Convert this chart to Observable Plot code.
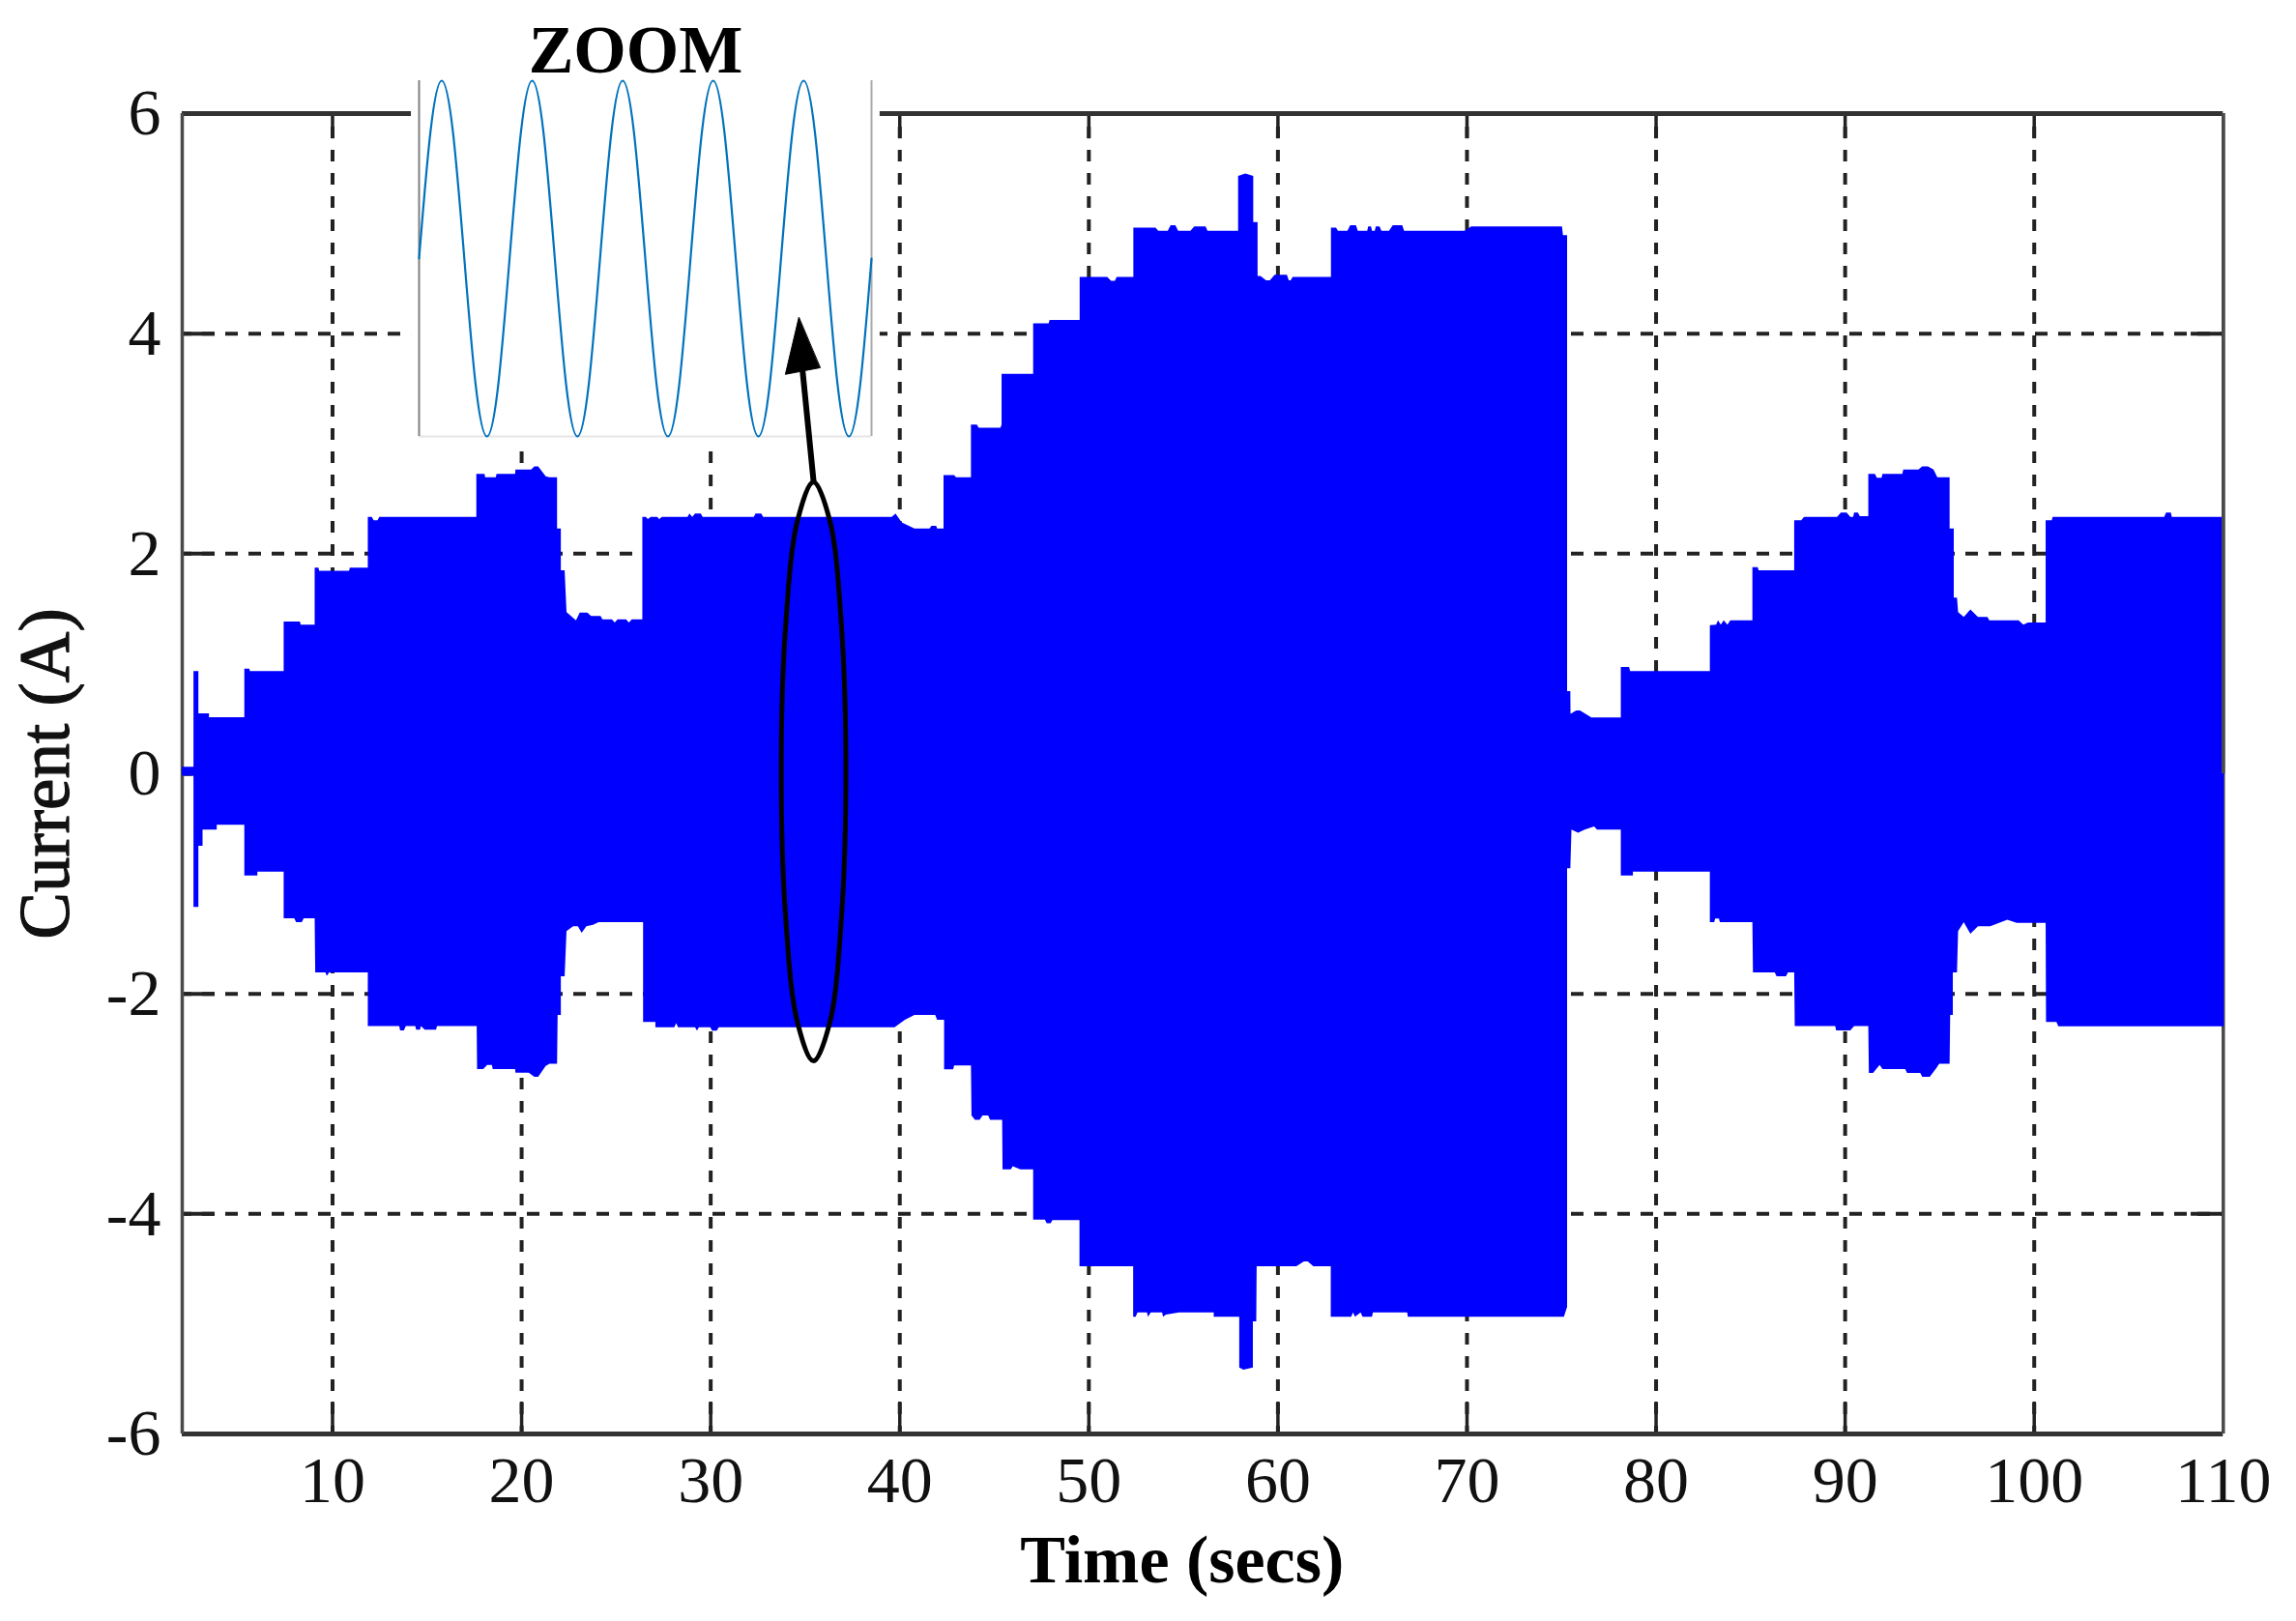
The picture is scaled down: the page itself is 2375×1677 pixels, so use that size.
<!DOCTYPE html>
<html>
<head>
<meta charset="utf-8">
<style>
html,body{margin:0;padding:0;background:#fff;}
svg{display:block;}
</style>
<script src="https://cdn.jsdelivr.net/npm/d3@7"></script>
<script src="https://cdn.jsdelivr.net/npm/@observablehq/plot@0.6"></script>
</head>
<body>
<div id="chart"></div>
<script>
const xTicks = [10,20,30,40,50,60,70,80,90,100,110];
const gridX = [10,20,30,40,50,60,70,80,90,100];
const yTicks = [-6,-4,-2,0,2,4,6];
const gridY = [-4,-2,0,2,4];

// Upper envelope of the current trace [time, amps]
const upperEnvelope = [
[2.05,.06],[2.67,.06],[2.67,.93],[2.93,.93],[2.93,.545],[3.49,.545],[3.49,.51],[5.36,.51],
[5.36,.95],[5.62,.95],[5.66,.93],[7.44,.93],
[7.44,1.38],[8.30,1.38],[8.34,1.35],[9.08,1.35],
[9.08,1.87],[9.28,1.87],[9.32,1.84],[10.90,1.84],[10.94,1.87],[11.89,1.87],
[11.89,2.33],[12.1,2.33],[12.2,2.30],[12.4,2.30],[12.5,2.33],[17.63,2.33],
[17.63,2.72],[18.06,2.72],[18.1,2.69],[18.66,2.69],[18.7,2.72],[19.68,2.72],[19.7,2.76],[20.53,2.76],[20.7,2.79],[20.9,2.79],[21.3,2.70],[21.5,2.69],[21.9,2.69],
[21.9,2.225],[22.1,2.225],[22.1,1.845],[22.3,1.845],[22.4,1.465],[22.9,1.39],[23.1,1.46],[23.5,1.46],[23.7,1.43],[24.2,1.43],[24.3,1.40],[24.8,1.40],[24.95,1.37],[25.1,1.40],[25.55,1.40],[25.7,1.37],[25.85,1.40],[26.41,1.40],
[26.41,2.33],[26.6,2.33],[26.7,2.31],[26.85,2.33],[27.2,2.33],[27.3,2.31],[27.45,2.33],[28.8,2.33],[28.9,2.36],[29.05,2.33],[29.2,2.36],[29.5,2.36],[29.6,2.33],[32.3,2.33],[32.4,2.36],[32.7,2.36],[32.8,2.33],[39.6,2.33],[39.8,2.36],[40.13,2.28],[40.8,2.225],[41.6,2.225],[41.7,2.25],[41.95,2.25],[42.0,2.225],[42.34,2.225],
[42.34,2.71],[42.9,2.71],[43.0,2.69],[43.79,2.69],
[43.79,3.17],[44.1,3.17],[44.2,3.14],[45.35,3.14],[45.41,3.17],
[45.41,3.63],[47.08,3.63],
[47.08,4.09],[47.9,4.09],[47.95,4.12],[49.54,4.12],
[49.54,4.51],[51.0,4.51],[51.2,4.475],[51.4,4.475],[51.5,4.51],[52.38,4.51],
[52.38,4.96],[53.55,4.96],[53.7,4.93],[54.2,4.93],[54.35,4.98],[54.6,4.98],[54.75,4.93],[55.4,4.93],[55.6,4.97],[56.2,4.97],[56.3,4.93],[57.92,4.93],
[57.92,5.43],[58.3,5.45],[58.72,5.43],[58.72,5.01],[58.95,5.01],[58.95,4.52],[59.1,4.52],[59.4,4.48],[59.6,4.48],[59.85,4.53],[60.5,4.53],[60.6,4.48],[60.7,4.48],[60.8,4.51],[62.83,4.51],
[62.83,4.96],[63.1,4.96],[63.2,4.93],[63.7,4.93],[63.85,4.98],[64.15,4.98],[64.25,4.93],[64.75,4.93],[64.8,4.97],[64.95,4.97],[65.0,4.93],[65.15,4.93],[65.2,4.97],[65.4,4.97],[65.5,4.93],[65.9,4.93],[66.1,4.98],[66.6,4.98],[66.7,4.93],[69.9,4.93],[70.25,4.97],[75.05,4.97],[75.1,4.89],[75.32,4.89],
[75.32,.747],[75.49,.747],[75.5,.54],[75.8,.57],[76.0,.57],[76.4,.53],[76.6,.507],[78.16,.507],
[78.16,.966],[78.6,.966],[78.65,.93],[82.87,.93],
[82.87,1.347],[83.2,1.35],[83.3,1.39],[83.45,1.35],[83.6,1.39],[83.8,1.35],[83.95,1.39],[85.12,1.39],
[85.12,1.874],[85.4,1.874],[85.45,1.845],[87.33,1.845],
[87.33,2.30],[87.7,2.30],[87.85,2.33],[89.6,2.33],[89.8,2.37],[90.1,2.37],[90.3,2.33],[90.45,2.33],[90.5,2.37],[90.7,2.37],[90.8,2.337],[91.25,2.337],
[91.25,2.72],[91.6,2.72],[91.7,2.685],[91.95,2.685],[92.0,2.72],[93.05,2.72],[93.1,2.76],[93.9,2.76],[94.1,2.79],[94.4,2.79],[94.7,2.76],[94.9,2.69],[95.55,2.69],
[95.55,2.225],[95.77,2.225],[95.77,1.596],[95.94,1.596],[96.0,1.464],[96.3,1.42],[96.65,1.49],[97.05,1.42],[97.55,1.42],[97.65,1.39],[99.2,1.39],[99.45,1.35],[99.7,1.37],[100.63,1.37],
[100.63,2.30],[100.95,2.30],[101.0,2.33],[106.9,2.33],[107.0,2.37],[107.25,2.37],[107.3,2.33],[110.05,2.33]
];

// Lower envelope of the current trace [time, amps]
const lowerEnvelope = [
[2.05,-.02],[2.67,-.02],[2.67,-1.215],[2.93,-1.215],[2.93,-.659],[3.15,-.659],[3.15,-.512],[3.9,-.512],[3.9,-.468],[5.36,-.468],
[5.36,-.928],[6.05,-.928],[6.05,-.893],[7.44,-.893],
[7.44,-1.317],[8.0,-1.317],[8.1,-1.353],[8.4,-1.353],[8.5,-1.317],[9.08,-1.317],
[9.11,-1.81],[9.65,-1.81],[9.72,-1.84],[9.85,-1.81],[11.89,-1.81],
[11.89,-2.298],[13.55,-2.298],[13.6,-2.336],[13.8,-2.336],[13.9,-2.298],[14.4,-2.298],[14.45,-2.33],[14.65,-2.33],[14.7,-2.298],[14.9,-2.33],[15.5,-2.33],[15.55,-2.298],[17.65,-2.298],
[17.67,-2.688],[18.0,-2.688],[18.2,-2.65],[18.45,-2.65],[18.5,-2.688],[19.68,-2.688],[19.7,-2.72],[20.4,-2.72],[20.7,-2.758],[20.9,-2.758],[21.3,-2.66],[21.5,-2.64],[21.9,-2.64],
[21.93,-2.196],[22.1,-2.196],[22.1,-1.845],[22.3,-1.845],[22.4,-1.435],[22.75,-1.39],[23.0,-1.39],[23.2,-1.45],[23.45,-1.39],[23.8,-1.376],[24.1,-1.353],[26.45,-1.353],
[26.45,-2.26],[27.1,-2.26],[27.1,-2.308],[28.1,-2.308],[28.2,-2.27],[28.3,-2.308],[29.2,-2.308],[29.3,-2.34],[29.4,-2.308],[30.0,-2.308],[30.1,-2.34],[30.35,-2.34],[30.45,-2.308],[39.75,-2.308],[40.3,-2.24],[40.8,-2.197],[41.9,-2.197],[42.0,-2.24],[42.37,-2.24],
[42.37,-2.69],[42.85,-2.69],[42.9,-2.656],[43.79,-2.656],
[43.82,-3.11],[44.0,-3.15],[44.25,-3.15],[44.4,-3.11],[44.7,-3.11],[44.8,-3.15],[45.44,-3.15],
[45.46,-3.60],[45.9,-3.60],[46.0,-3.57],[46.4,-3.60],[47.08,-3.60],
[47.08,-4.056],[47.7,-4.056],[47.8,-4.09],[48.0,-4.09],[48.1,-4.06],[49.53,-4.06],
[49.53,-4.48],[52.37,-4.48],
[52.37,-4.94],[52.5,-4.94],[52.6,-4.9],[53.1,-4.9],[53.15,-4.94],[53.3,-4.9],[53.9,-4.9],[53.95,-4.94],[54.1,-4.92],[54.8,-4.9],[56.63,-4.9],[56.63,-4.94],[57.98,-4.94],
[57.98,-5.40],[58.2,-5.42],[58.7,-5.40],[58.7,-4.98],[58.88,-4.98],[58.9,-4.48],[61.0,-4.48],[61.4,-4.436],[61.6,-4.436],[61.9,-4.48],[62.82,-4.48],
[62.82,-4.94],[63.9,-4.94],[64.0,-4.90],[64.1,-4.94],[64.4,-4.90],[64.5,-4.94],[65.0,-4.94],[65.05,-4.90],[66.86,-4.90],[66.9,-4.94],[75.15,-4.94],[75.32,-4.85],
[75.32,-.864],[75.49,-.864],[75.55,-.512],[75.9,-.54],[76.25,-.512],[76.75,-.483],[76.9,-.512],[78.16,-.512],
[78.16,-.928],[78.8,-.928],[78.8,-.893],[82.87,-.893],
[82.87,-1.353],[83.1,-1.353],[83.15,-1.32],[83.35,-1.32],[83.4,-1.353],[85.12,-1.353],
[85.15,-1.81],[86.3,-1.81],[86.4,-1.845],[86.9,-1.845],[87.0,-1.81],[87.33,-1.81],
[87.36,-2.298],[89.5,-2.298],[89.55,-2.336],[90.3,-2.336],[90.5,-2.298],[91.25,-2.298],
[91.28,-2.723],[91.5,-2.723],[91.85,-2.65],[92.0,-2.688],[93.2,-2.688],[93.3,-2.723],[94.0,-2.723],[94.1,-2.758],[94.5,-2.758],[94.85,-2.68],[95.0,-2.64],[95.55,-2.64],
[95.58,-2.196],[95.72,-2.196],[95.72,-1.81],[95.94,-1.81],[96.0,-1.435],[96.3,-1.353],[96.65,-1.458],[97.05,-1.39],[97.7,-1.39],[98.6,-1.33],[99.1,-1.36],[100.63,-1.36],
[100.65,-2.26],[101.2,-2.26],[101.3,-2.30],[110.05,-2.30]
];

// Callout annotation, in chart units
const ellipseTime = [37.15,36.92,36.30,35.44,34.59,33.96,33.73,33.96,34.59,35.44,36.30,36.92];
const ellipseAmps = [.02,1.335,2.30,2.65,2.30,1.335,.02,-1.295,-2.26,-2.61,-2.26,-1.295];
const arrowShaft = [[35.44,2.66],[34.87,3.646]];
const arrowHead = [[34.66,4.147],[33.95,3.63],[35.78,3.69]];
const insetCover = {t1:14.17, t2:38.96, a1:2.96, a2:6.34};

// Inset: five cycles of the current waveform
const insetTime = [0,.0025,.005,.0075,.01,.0125,.015,.0175,.02,.0225,.025,.0275,.03,.0325,.035,.0375,.04,.0425,.045,.0475,.05,.0525,.055,.0575,.06,.0625,.065,.0675,.07,.0725,.075,.0775,.08,.0825,.085,.0875,.09,.0925,.095,.0975,.1];
const insetAmps = [0,1.63,2.3,1.63,0,-1.63,-2.3,-1.63,0,1.63,2.3,1.63,0,-1.63,-2.3,-1.63,0,1.63,2.3,1.63,0,-1.63,-2.3,-1.63,0,1.63,2.3,1.63,0,-1.63,-2.3,-1.63,0,1.63,2.3,1.63,0,-1.63,-2.3,-1.63,0];

const toRow = ([t, a]) => ({t, a});
const serif = "'Liberation Serif','Times New Roman',serif";

function insetMark() {
  const inset = Plot.plot({
    width: 476, height: 376,
    marginLeft: 4, marginRight: 4, marginTop: 4, marginBottom: 4,
    x: {domain: [0, .1], axis: null},
    y: {domain: [-2.3, 2.3], axis: null},
    style: {background: "transparent", width: "476px", height: "376px", maxWidth: "none"},
    marks: [
      Plot.ruleY([-2.3], {stroke: "#e6e6e6", strokeWidth: 2}),
      Plot.ruleX([0], {stroke: "#808080", strokeWidth: 2}),
      Plot.ruleX([.1], {stroke: "#aaaaaa", strokeWidth: 2}),
      Plot.line(insetTime.map((t, i) => ({t, a: insetAmps[i]})), {x: "t", y: "a", curve: "natural", stroke: "#0072BD", strokeWidth: 2.2})
    ]
  });
  inset.setAttribute("x", 429);
  inset.setAttribute("y", 79);
  inset.setAttribute("overflow", "visible");
  return inset;
}

const chart = Plot.plot({
  width: 2375,
  height: 1677,
  marginLeft: 188,
  marginRight: 75.7,
  marginTop: 117,
  marginBottom: 194,
  x: {domain: [2.05, 110], label: null, axis: null},
  y: {domain: [-6, 6], label: null, axis: null},
  style: {background: "#fff", fontFamily: serif},
  marks: [
    // dashed grid
    Plot.ruleX(gridX, {x: d => d, y1: 6, y2: -6, stroke: "#222", strokeWidth: 4, strokeDasharray: "12 12", strokeDashoffset: 10}),
    Plot.ruleY(gridY, {y: d => d, x1: 2.05, x2: 110, stroke: "#222", strokeWidth: 4, strokeDasharray: "13 11", strokeDashoffset: 3}),
    // ticks
    Plot.ruleX(gridX, {x: d => d, y1: 6, y2: 5.77, stroke: "#222", strokeWidth: 3.5}),
    Plot.ruleX(gridX, {x: d => d, y1: -6, y2: -5.71, stroke: "#222", strokeWidth: 3.5}),
    Plot.ruleY(gridY, {y: d => d, x1: 2.05, x2: 3.79, stroke: "#222", strokeWidth: 4}),
    Plot.ruleY(gridY, {y: d => d, x1: 110, x2: 108.3, stroke: "#222", strokeWidth: 4}),
    // frame
    Plot.ruleY([6, -6], {x1: 2.05, x2: 110, stroke: "#333", strokeWidth: 5}),
    Plot.ruleX([2.05, 110], {y1: 6, y2: -6, stroke: "#4a4a4a", strokeWidth: 3.5}),
    // white panel behind the inset
    Plot.rect([insetCover], {x1: "t1", x2: "t2", y1: "a1", y2: "a2", fill: "#fff"}),
    // current envelope
    Plot.areaY(upperEnvelope.map(toRow), {x: "t", y1: -.02, y2: "a", fill: "#0000ff"}),
    Plot.areaY(lowerEnvelope.map(toRow), {x: "t", y1: .02, y2: "a", fill: "#0000ff"}),
    Plot.ruleX([110], {y1: 6, y2: 0, stroke: "#4a4a4a", strokeWidth: 3.5}),
    // axes
    Plot.axisX({ticks: xTicks, tickSize: 0, tickPadding: 22, fontSize: 68, fontFamily: serif, fill: "#111", stroke: "#111", strokeWidth: 1.3, label: null, tickFormat: d => String(d)}),
    Plot.axisY({ticks: yTicks, tickSize: 0, tickPadding: 22, fontSize: 68, fontFamily: serif, fill: "#111", stroke: "#111", strokeWidth: 1.3, label: null, tickFormat: d => String(d)}),
    Plot.text(["Time (secs)"], {x: 54.93, y: -7.155, text: d => d, fontFamily: serif, fontWeight: "bold", fontSize: 70, fill: "#000", lineAnchor: "middle"}),
    Plot.text(["Current (A)"], {x: -5.16, y: 0, text: d => d, rotate: -90, fontFamily: serif, fontSize: 73, fill: "#111", stroke: "#111", strokeWidth: 1.2, lineAnchor: "middle"}),
    Plot.text(["ZOOM"], {x: 26.03, y: 6.57, text: d => d, fontFamily: serif, fontWeight: "bold", fontSize: 70, fill: "#000", lineAnchor: "middle"}),
    // inset
    insetMark,
    // callout
    Plot.line(ellipseTime.map((t, i) => ({t, a: ellipseAmps[i]})), {x: "t", y: "a", curve: "catmull-rom-closed", stroke: "#000", strokeWidth: 5}),
    Plot.line(arrowShaft.map(toRow), {x: "t", y: "a", stroke: "#000", strokeWidth: 6}),
    Plot.line(arrowHead.map(toRow), {x: "t", y: "a", curve: "linear-closed", fill: "#000", stroke: "#000", strokeWidth: 1})
  ]
});
document.getElementById("chart").appendChild(chart);
</script>
</body>
</html>
